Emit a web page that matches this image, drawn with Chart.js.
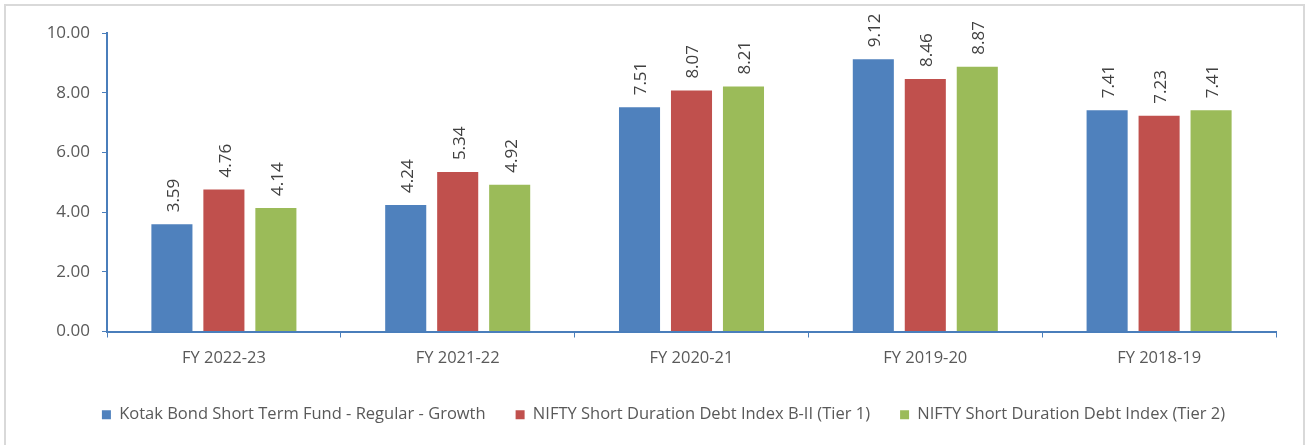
<!DOCTYPE html>
<html>
<head>
<meta charset="utf-8">
<script src="https://cdn.jsdelivr.net/npm/chart.js@4"></script>
<style>
  body { margin: 0; background: #fff; }
  #wrap { position: absolute; left: 0; top: 0; width: 1307px; height: 445px; }
  #frame { position: absolute; left: 4px; top: 4px; width: 1297px; height: 460px; border: 2px solid #d9d9d9; }
</style>
</head>
<body>
<div id="wrap">
  <div id="frame"></div>
  <canvas id="myChart" width="1307" height="445"></canvas>
</div>
<script>
// data
var categories = ["FY 2022-23", "FY 2021-22", "FY 2020-21", "FY 2019-20", "FY 2018-19"];
var fundValues = [3.59, 4.24, 7.51, 9.12, 7.41];
var tier1Values = [4.76, 5.34, 8.07, 8.46, 7.23];
var tier2Values = [4.14, 4.92, 8.21, 8.87, 7.41];
var seriesNames = [
  "Kotak Bond Short Term Fund - Regular - Growth",
  "NIFTY Short Duration Debt Index B-II (Tier 1)",
  "NIFTY Short Duration Debt Index (Tier 2)"
];

var axisColor = "#4a7ebb";
var fontName = "'Open Sans', Arial, sans-serif";

// rotated value labels above each bar
var barLabels = {
  id: "barLabels",
  afterDatasetsDraw: function (chart) {
    var ctx = chart.ctx;
    ctx.save();
    ctx.font = "17px " + fontName;
    ctx.fillStyle = "#404040";
    ctx.textAlign = "left";
    ctx.textBaseline = "middle";
    chart.data.datasets.forEach(function (ds, i) {
      chart.getDatasetMeta(i).data.forEach(function (bar, j) {
        ctx.save();
        ctx.translate(bar.x + 2, bar.y - 12);
        ctx.rotate(-Math.PI / 2);
        ctx.fillText(ds.data[j].toFixed(2), 0, 0);
        ctx.restore();
      });
    });
    ctx.restore();
  }
};

new Chart("myChart", {
  type: "bar",
  data: {
    labels: categories,
    datasets: [{
      label: seriesNames[0],
      data: fundValues,
      backgroundColor: "#4f81bd"
    }, {
      label: seriesNames[1],
      data: tier1Values,
      backgroundColor: "#c0504d"
    }, {
      label: seriesNames[2],
      data: tier2Values,
      backgroundColor: "#9bbb59"
    }]
  },
  options: {
    responsive: false,
    animation: false,
    layout: { padding: { top: 33, left: 20, right: 0, bottom: 12 } },
    datasets: { bar: { categoryPercentage: 0.667, barPercentage: 0.79 } },
    plugins: {
      tooltip: { enabled: false },
      legend: {
        position: "bottom",
        labels: {
          boxWidth: 9,
          boxHeight: 9,
          padding: 30,
          color: "#595959",
          font: { family: fontName, size: 16.5 }
        }
      }
    },
    scales: {
      x: {
        grid: { display: true, drawOnChartArea: false, color: axisColor, tickLength: 6, offset: true },
        border: { color: axisColor, width: 2 },
        ticks: { color: "#595959", font: { family: fontName, size: 16.5 }, padding: 11 },
        afterFit: function (s) { s.height = 45; }
      },
      y: {
        min: 0,
        max: 10,
        grid: { display: true, drawOnChartArea: false, color: axisColor, tickLength: 5 },
        border: { color: axisColor, width: 2 },
        ticks: {
          stepSize: 2,
          color: "#595959",
          font: { family: fontName, size: 17 },
          padding: 12,
          callback: function (v) { return v.toFixed(2); }
        },
        afterFit: function (s) { s.width = 87; }
      },
      // empty right side spacer so the plot ends where the reference does
      yRight: {
        position: "right",
        display: true,
        grid: { display: false },
        border: { display: false },
        ticks: { display: false },
        afterFit: function (s) { s.width = 31; }
      }
    }
  },
  plugins: [barLabels]
});
</script>
</body>
</html>
